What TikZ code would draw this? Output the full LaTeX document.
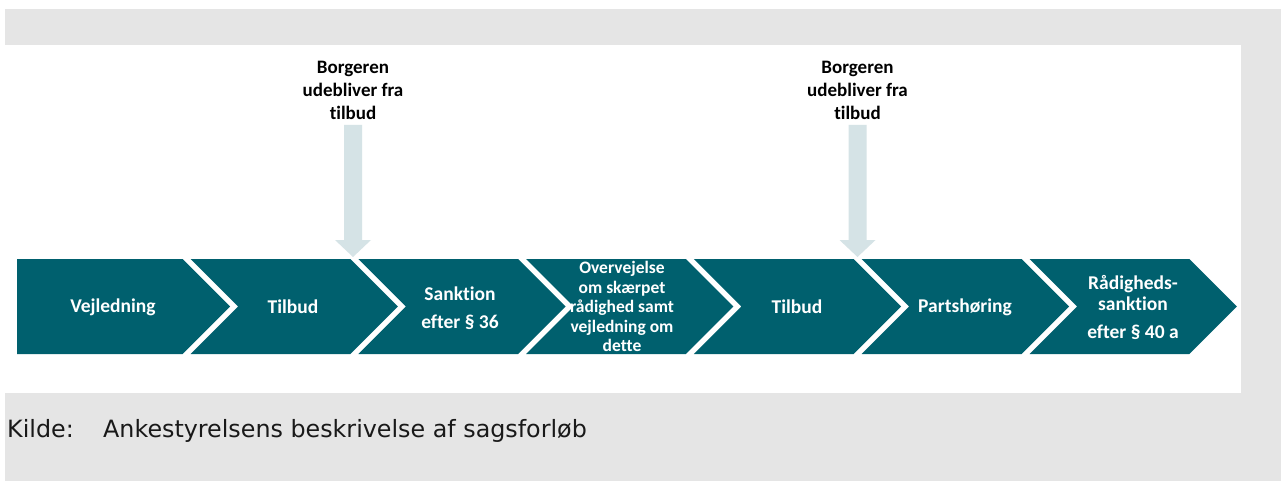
\documentclass[tikz,border=0pt]{standalone}
\usepackage{fontspec}
\setmainfont{Carlito}[Ligatures=NoCommon]
\newfontfamily\kildefont{DejaVu Sans}
\usetikzlibrary{calc}
\definecolor{chevteal}{HTML}{00606E}
\definecolor{arrowc}{HTML}{D5E3E6}
\definecolor{bggray}{HTML}{E5E5E5}
\tikzset{
  chevtext/.style={text=white, font=\bfseries\fontsize{19.5}{21}\selectfont, align=center, inner sep=0pt},
  smalltext/.style={text=white, font=\bfseries\fontsize{17.5}{19.5}\selectfont, align=center, inner sep=0pt},
  labtext/.style={text=black, font=\bfseries\fontsize{19}{23}\selectfont, align=center, inner sep=0pt},
  blockarrow/.style={fill=arrowc},
  chevron/.style={fill=chevteal},
  kilde/.style={font=\kildefont\fontsize{23.8}{28}\selectfont, text=black!90, inner sep=0pt, anchor=base west}
}
\begin{document}
\begin{tikzpicture}[x=1pt,y=-1pt]
\useasboundingbox (0,0) rectangle (1281,481);
\fill[bggray] (5,9) rectangle (1281,481);
\fill[white] (0,45) rectangle (1241,393);
% chevrons
\foreach \i in {0,...,6} {
  \pgfmathsetmacro\T{230+167.8*\i}
  \pgfmathsetmacro\P{230+167.8*(\i-1)}
  \ifnum\i=0
    \fill[chevron] (17,259) -- (\T-47.5,259) -- (\T,306.5) -- (\T-47.5,354) -- (17,354) -- cycle;
  \else
    \fill[chevron] (\P-39.5,259) -- (\T-47.5,259) -- (\T,306.5) -- (\T-47.5,354) -- (\P-39.5,354) -- (\P+8,306.5) -- cycle;
  \fi
}
% chevron texts
\node[chevtext] (c1) at (113,307) {Vejledning};
\node[chevtext] (c2) at (293,307) {Tilbud};
\node[chevtext] (c3) at (460,308) {Sanktion\\[7pt]efter § 36};
\node[smalltext] (c4) at (622,306.5) {Overvejelse\\om skærpet\\rådighed samt\\vejledning om\\dette};
\node[chevtext] (c5) at (797,307) {Tilbud};
\node[chevtext] (c6) at (965,307) {Partshøring};
\node[chevtext] (c7) at (1133,307.5) {Rådigheds-\\sanktion\\[7pt]efter § 40 a};
% labels
\node[labtext] (lab1) at (353,90.5) {Borgeren\\udebliver fra\\tilbud};
\node[labtext] (lab2) at (857.5,90.5) {Borgeren\\udebliver fra\\tilbud};
\coordinate (top1) at (353,125);
\coordinate (tip1) at (353,257);
\coordinate (top2) at (857.5,125);
\coordinate (tip2) at (857.5,257);
\foreach \a in {1,2} {
  \fill[blockarrow] ($(top\a)+(-9,0)$) -- ($(top\a)+(9,0)$) -- ($(tip\a)+(9,-17)$) -- ($(tip\a)+(18,-17)$) -- (tip\a) -- ($(tip\a)+(-18,-17)$) -- ($(tip\a)+(-9,-17)$) -- cycle;
}
% source
\node[kilde] (k1) at (7,437) {Kilde:};
\node[kilde] (k2) at (103,437) {Ankestyrelsens beskrivelse af sagsforløb};
\end{tikzpicture}
\end{document}
